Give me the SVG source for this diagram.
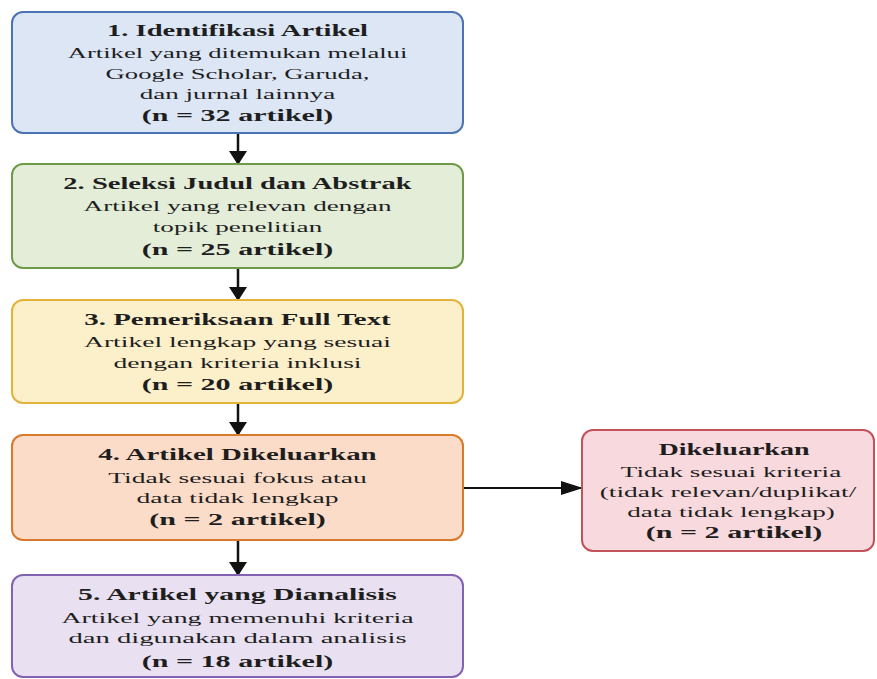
<svg xmlns="http://www.w3.org/2000/svg" width="877" height="679" viewBox="0 0 877 679">
<style>
  .box { stroke-width: 2; }
  text { font-family: "Liberation Serif", "Times New Roman", serif; fill: #1e1e1e; text-anchor: middle; }
  .t { font-weight: bold; font-size: 17px; }
  .b { font-size: 15.5px; }
  .n { font-weight: bold; font-size: 17px; }
  .conn { stroke: #111; stroke-width: 2.5; fill: none; }
  .connh { stroke: #111; stroke-width: 1.8; fill: none; }
</style>
<defs>
  <marker id="av" markerUnits="userSpaceOnUse" markerWidth="14" markerHeight="18" refX="13" refY="9" orient="auto">
    <path d="M0,0 L14,9 L0,18 z" fill="#111"/>
  </marker>
  <marker id="ah" markerUnits="userSpaceOnUse" markerWidth="22" markerHeight="14" refX="21" refY="7" orient="auto">
    <path d="M0,0 L22,7 L0,14 z" fill="#111"/>
  </marker>
</defs>
<rect width="877" height="679" fill="#ffffff"/>

<g id="connectors">
  <line class="conn" x1="238" y1="134" x2="238" y2="164" marker-end="url(#av)"/>
  <line class="conn" x1="238" y1="269" x2="238" y2="300" marker-end="url(#av)"/>
  <line class="conn" x1="238" y1="404" x2="238" y2="435" marker-end="url(#av)"/>
  <line class="conn" x1="238" y1="541" x2="238" y2="575" marker-end="url(#av)"/>
  <line class="connh" x1="464" y1="488" x2="582" y2="488" marker-end="url(#ah)"/>
</g>

<g id="node1">
  <rect class="box" x="12" y="12" width="451" height="121" rx="11" fill="#dce6f5" stroke="#4a74b4"/>
  <text class="t" transform="translate(237.5,36) scale(1.68,1)">1. Identifikasi Artikel</text>
  <text class="b" transform="translate(237.5,58) scale(1.72,1)">Artikel yang ditemukan melalui</text>
  <text class="b" transform="translate(237.5,79) scale(1.72,1)">Google Scholar, Garuda,</text>
  <text class="b" transform="translate(237.5,99) scale(1.75,1)">dan jurnal lainnya</text>
  <text class="n" transform="translate(237.5,121) scale(1.77,1)">(n = 32 artikel)</text>
</g>

<g id="node2">
  <rect class="box" x="12" y="164" width="451" height="104" rx="11" fill="#e3edd8" stroke="#6f9b48"/>
  <text class="t" transform="translate(237.5,189) scale(1.68,1)">2. Seleksi Judul dan Abstrak</text>
  <text class="b" transform="translate(237.5,211) scale(1.75,1)">Artikel yang relevan dengan</text>
  <text class="b" transform="translate(237.5,232) scale(1.75,1)">topik penelitian</text>
  <text class="n" transform="translate(237.5,255) scale(1.77,1)">(n = 25 artikel)</text>
</g>

<g id="node3">
  <rect class="box" x="12" y="300" width="451" height="103" rx="11" fill="#fcf0ca" stroke="#e2b23a"/>
  <text class="t" transform="translate(237.5,325) scale(1.7,1)">3. Pemeriksaan Full Text</text>
  <text class="b" transform="translate(237.5,347) scale(1.78,1)">Artikel lengkap yang sesuai</text>
  <text class="b" transform="translate(237.5,368) scale(1.78,1)">dengan kriteria inklusi</text>
  <text class="n" transform="translate(237.5,390) scale(1.77,1)">(n = 20 artikel)</text>
</g>

<g id="node4">
  <rect class="box" x="12" y="435" width="451" height="105" rx="11" fill="#fbdcc8" stroke="#d9792c"/>
  <text class="t" transform="translate(237.5,460) scale(1.7,1)">4. Artikel Dikeluarkan</text>
  <text class="b" transform="translate(237.5,483) scale(1.78,1)">Tidak sesuai fokus atau</text>
  <text class="b" transform="translate(237.5,503) scale(1.78,1)">data tidak lengkap</text>
  <text class="n" transform="translate(237.5,525) scale(1.77,1)">(n = 2 artikel)</text>
</g>

<g id="node5">
  <rect class="box" x="12" y="575" width="451" height="102" rx="11" fill="#e9e1f1" stroke="#8262b2"/>
  <text class="t" transform="translate(237.5,600) scale(1.75,1)">5. Artikel yang Dianalisis</text>
  <text class="b" transform="translate(237.5,623) scale(1.8,1)">Artikel yang memenuhi kriteria</text>
  <text class="b" transform="translate(237.5,643) scale(1.85,1)">dan digunakan dalam analisis</text>
  <text class="n" transform="translate(237.5,667) scale(1.77,1)">(n = 18 artikel)</text>
</g>

<g id="node6">
  <rect class="box" x="582" y="430" width="292" height="121" rx="11" fill="#f8d9dd" stroke="#c2525c"/>
  <text class="t" transform="translate(734,455) scale(1.65,1)">Dikeluarkan</text>
  <text class="b" transform="translate(731,477) scale(1.75,1)">Tidak sesuai kriteria</text>
  <text class="b" transform="translate(728,497) scale(1.77,1)">(tidak relevan/duplikat/</text>
  <text class="b" transform="translate(731,517) scale(1.75,1)">data tidak lengkap)</text>
  <text class="n" transform="translate(734,538) scale(1.77,1)">(n = 2 artikel)</text>
</g>
</svg>
